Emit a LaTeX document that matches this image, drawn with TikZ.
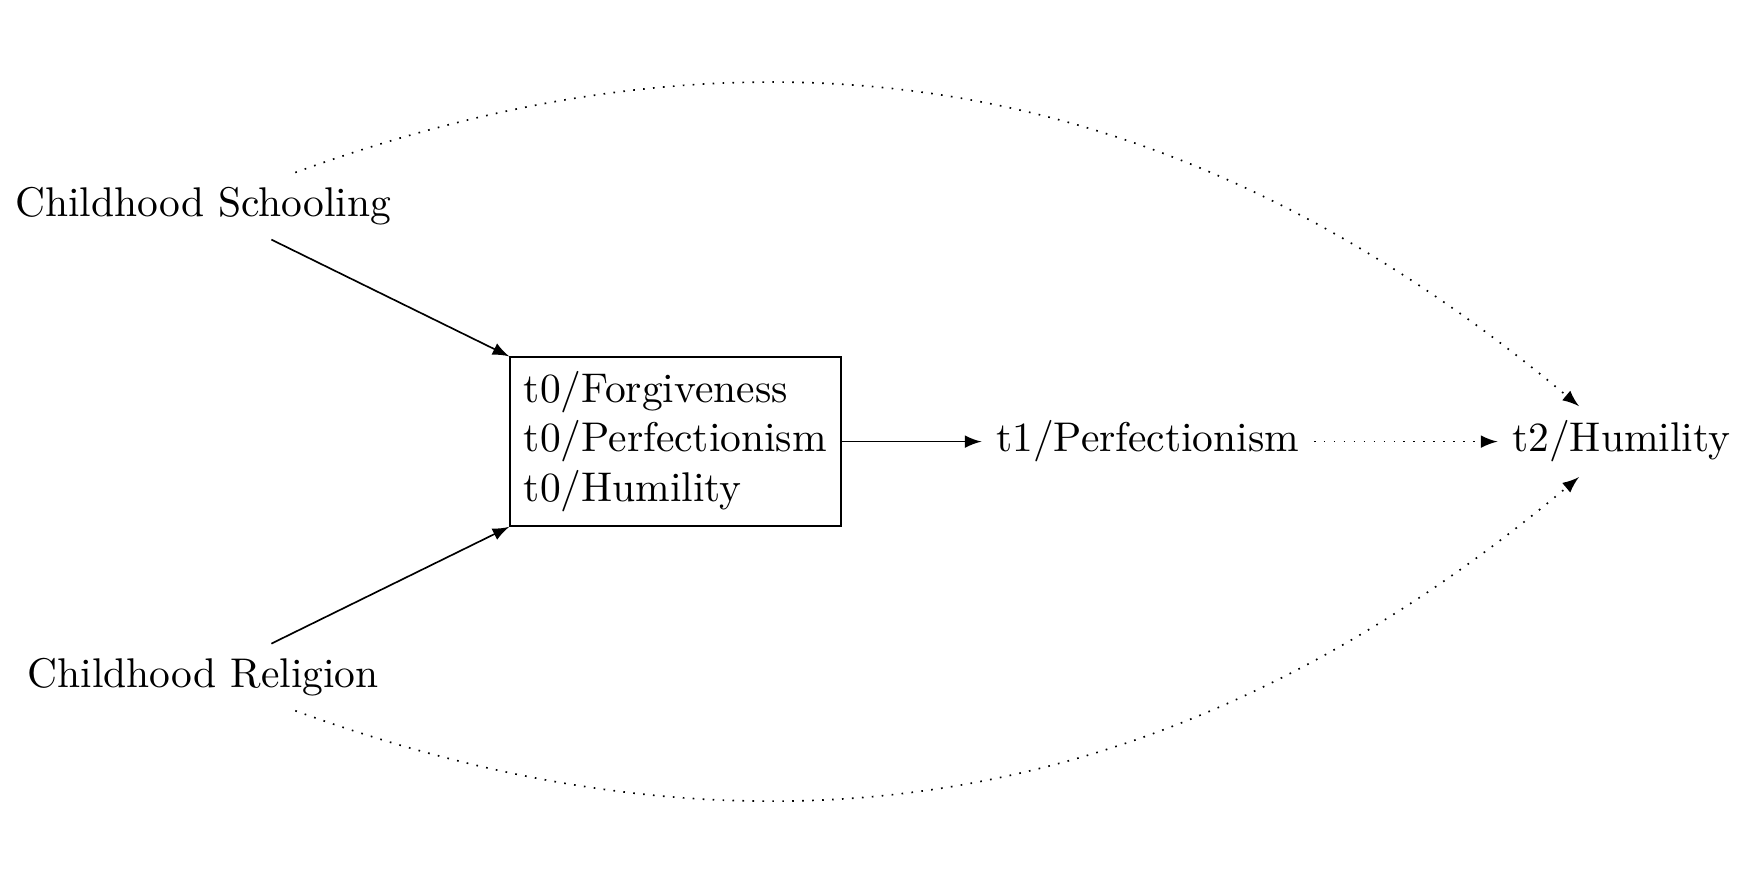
\documentclass[tikz,border=0pt]{standalone}
\usepackage{tikz}
\usetikzlibrary{positioning}

\begin{document}
\begin{tikzpicture}[>=latex,confbox/.style={draw,align=left},lag/.style={->,dotted}]
\useasboundingbox (0,0) rectangle (14.77,7.495);
    \node (school) at (1.72,5.75) {Childhood Schooling};
    \node (relig) at (1.72,1.76) {Childhood Religion};
    \node [confbox] (base) at (5.72,3.755) {t0/Forgiveness\\t0/Perfectionism\\t0/Humility};
    \node (pwave) at (9.72,3.755) {t1/Perfectionism};
    \node (hwave) at (13.73,3.755) {t2/Humility};

    \draw[->] (school) -- (base.north west);
    \draw[->] (relig) -- (base.south west);
    \draw[->] (base) -- (pwave);
    \draw[lag] (pwave) -- (hwave);
    \draw[lag] (school) to[out=20,in=140] (hwave);
    \draw[lag] (relig) to[out=-20,in=-140] (hwave);
\end{tikzpicture}
\end{document}
